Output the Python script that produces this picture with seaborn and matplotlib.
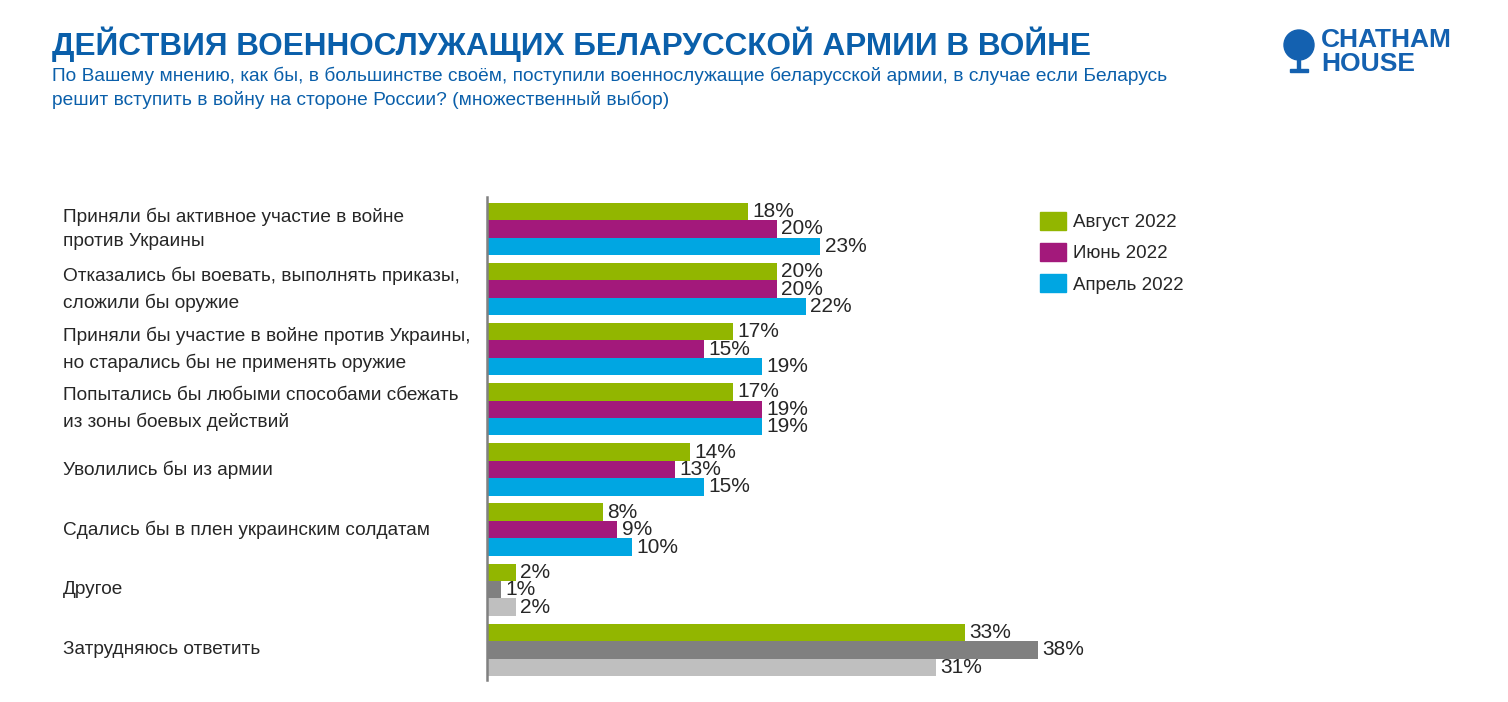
import numpy as np
import pandas as pd
import matplotlib.pyplot as plt
import matplotlib.patches as mpatches
import matplotlib.transforms as mtransforms
import seaborn as sns

categories = [
    'Приняли бы активное участие в войне\nпротив Украины',
    'Отказались бы воевать, выполнять приказы,\nсложили бы оружие',
    'Приняли бы участие в войне против Украины,\nно старались бы не применять оружие',
    'Попытались бы любыми способами сбежать\nиз зоны боевых действий',
    'Уволились бы из армии',
    'Сдались бы в плен украинским солдатам',
    'Другое',
    'Затрудняюсь ответить',
]
waves = ['Август 2022', 'Июнь 2022', 'Апрель 2022']
aug = [18, 20, 17, 17, 14, 8, 2, 33]
jun = [20, 20, 15, 19, 13, 9, 1, 38]
apr = [23, 22, 19, 19, 15, 10, 2, 31]

colors = ['#92B600', '#A3197B', '#00A6E2']
gray_colors = ['#92B600', '#808080', '#BFBFBF']
gray_rows = ['Другое', 'Затрудняюсь ответить']

df = pd.DataFrame({
    'Вариант': categories * 3,
    'Волна': np.repeat(waves, len(categories)),
    'Доля': aug + jun + apr,
})

sns.set_style('white')
plt.rcParams['font.family'] = ['Liberation Sans', 'DejaVu Sans']

W, H = 1508, 702
fig = plt.figure(figsize=(W / 100, H / 100), dpi=100)
ax = fig.add_axes([487 / W, 1 - 680 / H, 1000 / W, 483 / H])

sns.barplot(data=df, y='Вариант', x='Доля', hue='Волна', order=categories,
            hue_order=waves, palette=colors, saturation=1, width=0.87,
            orient='h', legend=False, linewidth=0, ax=ax)

# серые цвета для последних двух строк
for j, cont in enumerate(ax.containers):
    for i, bar in enumerate(cont):
        if categories[i] in gray_rows:
            bar.set_facecolor(gray_colors[j])
    ax.bar_label(cont, labels=[f'{int(v)}%' for v in cont.datavalues],
                 padding=3, fontsize=15, color='#262626')

ax.set_xlim(0, 69.0)
ax.set_ylim(7.5, -0.53)
ax.set_xticks([])
ax.set_yticks([])
ax.set_xlabel('')
ax.set_ylabel('')
for s in ['top', 'right', 'bottom']:
    ax.spines[s].set_visible(False)
ax.spines['left'].set_color('#808080')
ax.spines['left'].set_linewidth(1.8)

trans = mtransforms.blended_transform_factory(fig.transFigure, ax.transData)
for i, cat in enumerate(categories):
    ax.text(63 / W, i, cat, transform=trans, ha='left', va='center',
            fontsize=13.7, color='#262626', linespacing=1.6)

handles = [mpatches.Patch(color=c, label=w) for c, w in zip(colors, waves)]
fig.legend(handles=handles, loc='upper left', bbox_to_anchor=(1023 / W, 1 - 195 / H),
           frameon=False, fontsize=13.5, handlelength=1.4, handleheight=1.1,
           labelspacing=0.63, handletextpad=0.35, labelcolor='#262626')

blue = '#0A5FAA'
fig.text(52 / W, 1 - 44 / H, 'ДЕЙСТВИЯ ВОЕННОСЛУЖАЩИХ БЕЛАРУССКОЙ АРМИИ В ВОЙНЕ',
         fontsize=22.7, fontweight='bold', color=blue, va='center', ha='left')
fig.text(52 / W, 1 - 88 / H,
         'По Вашему мнению, как бы, в большинстве своём, поступили военнослужащие беларусской армии, в случае если Беларусь\n'
         'решит вступить в войну на стороне России? (множественный выбор)',
         fontsize=13.75, color=blue, va='center', ha='left', linespacing=1.35)

# логотип
px = mtransforms.IdentityTransform()
fig.patches.append(mpatches.Circle((1299, H - 45), 15, transform=px, color='#1461B0'))
fig.patches.append(mpatches.Rectangle((1290, H - 72), 18, 3, transform=px, color='#1461B0'))
fig.patches.append(mpatches.Rectangle((1297, H - 70), 3, 10, transform=px, color='#1461B0'))
fig.text(1321 / W, 1 - 52 / H, 'CHATHAM\nHOUSE', fontsize=19, fontweight='bold',
         color='#1461B0', ha='left', va='center', linespacing=0.95)

fig.savefig('out.png', dpi=100)
